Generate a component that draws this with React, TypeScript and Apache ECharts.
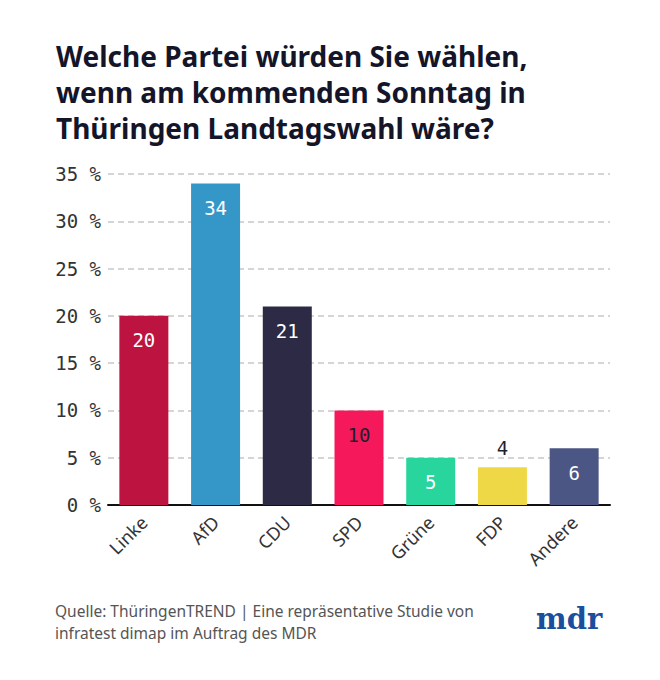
import React, { useEffect, useRef } from "react";
import * as echarts from "echarts";

const parties = ["Linke", "AfD", "CDU", "SPD", "Grüne", "FDP", "Andere"];
const shares = [20, 34, 21, 10, 5, 4, 6];
const barColors = ["#bd1341", "#3597c8", "#2c2a44", "#f5185a", "#28d59c", "#efd845", "#4b5684"];
const labelColors = ["#ffffff", "#ffffff", "#ffffff", "#1f1f2e", "#ffffff", "#1f1f2e", "#ffffff"];
const labelOutside = [false, false, false, false, false, true, false];
const yTicks = [0, 5, 10, 15, 20, 25, 30, 35];
const titleText = "Welche Partei würden Sie wählen,\nwenn am kommenden Sonntag in\nThüringen Landtagswahl wäre?";
const sourceText = "Quelle: ThüringenTREND | Eine repräsentative Studie von\ninfratest dimap im Auftrag des MDR";

export default function App() {
  const ref = useRef<HTMLDivElement>(null);
  useEffect(() => {
    if (!ref.current) return;
    const chart = echarts.init(ref.current, null, { renderer: "svg" });
    const mono = "'DejaVu Sans Mono', 'Liberation Mono', monospace";
    const sans = "'Noto Sans', 'Open Sans', sans-serif";
    chart.setOption({
      animation: false,
      backgroundColor: "#ffffff",
      title: {
        text: titleText,
        left: 51,
        top: 33,
        textStyle: {
          fontFamily: sans,
          fontSize: 28,
          fontWeight: "bold",
          color: "#15152a",
          lineHeight: 36,
        },
      },
      grid: { left: 108, right: 50, top: 174, bottom: 175 },
      xAxis: {
        type: "category",
        data: parties,
        axisLine: { show: true, lineStyle: { color: "#111111", width: 2 } },
        axisTick: { show: false },
        axisLabel: {
          rotate: 45,
          margin: 14,
          fontFamily: sans,
          fontSize: 18,
          color: "#333333",
          interval: 0,
        },
      },
      yAxis: {
        type: "value",
        min: yTicks[0],
        max: yTicks[yTicks.length - 1],
        interval: 5,
        axisLine: { show: false },
        axisTick: { show: false },
        axisLabel: {
          formatter: "{value} %",
          fontFamily: mono,
          fontSize: 19,
          color: "#333333",
          margin: 7,
        },
        splitLine: { lineStyle: { color: "#c8c8c8", type: [6, 4], width: 1.5 } },
      },
      series: [
        {
          type: "bar",
          barWidth: 49,
          data: shares.map((v, i) => ({
            value: v,
            itemStyle: { color: barColors[i] },
            label: {
              show: true,
              position: labelOutside[i] ? "top" : "insideTop",
              distance: labelOutside[i] ? 10 : 15,
              color: labelColors[i],
              fontFamily: mono,
              fontSize: 19,
            },
          })),
        },
      ],
      graphic: [
        {
          type: "text",
          left: 55,
          top: 600,
          style: {
            text: sourceText,
            fontFamily: sans,
            fontSize: 15.5,
            lineHeight: 22,
            fill: "#555555",
          },
        },
        {
          type: "text",
          left: 536,
          top: 604,
          style: {
            text: "mdr",
            fontFamily: "'DejaVu Serif', serif",
            fontSize: 29,
            fontWeight: "bold",
            fill: "#1b4f9d",
          },
        },
      ],
    });
    return () => chart.dispose();
  }, []);
  return (
    <div
      ref={ref}
      style={{ position: "fixed", left: 0, top: 0, width: 660, height: 680 }}
    />
  );
}
